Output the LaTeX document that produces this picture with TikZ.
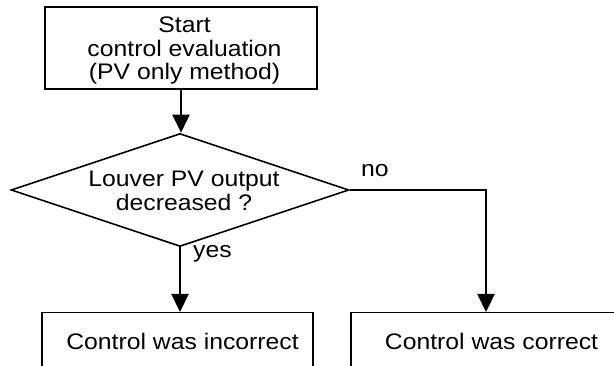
\documentclass[tikz,border=0pt]{standalone}
\usepackage{fontspec}
\setmainfont[FakeStretch=1.1]{Liberation Sans}
\usetikzlibrary{shapes.geometric,arrows.meta}
\tikzset{
  box/.style={draw, line width=1.5pt, inner sep=0pt},
  decision/.style={draw, diamond, line width=1.6pt, inner sep=0pt},
  lbl/.style={inner sep=0pt, font=\fontsize{22.5}{23.5}\selectfont},
  flow/.style={line width=2.2pt, -{Triangle[width=17pt,length=18pt]}},
}
\begin{document}
\begin{tikzpicture}[x=1pt,y=-1pt]
  \clip (0,0) rectangle (614,366);
  % start box
  \node[box, minimum width=272pt, minimum height=82pt] (start) at (181,48) {};
  \node[lbl, align=center] (starttext) at (184.5,50.5)
    {Start\\control evaluation\\(PV only method)};
  % decision
  \node[decision, minimum width=338pt, minimum height=113pt] (dec) at (180,190) {};
  \node[lbl, align=center] (dectext) at (184,191) {Louver PV output\\decreased ?};
  % outcome boxes (run off the lower and right edges)
  \node[box, minimum width=271pt, minimum height=60pt, anchor=north west]
    (inc) at (41,312) {};
  \node[lbl] (inctext) at (182.5,341) {Control was incorrect};
  \node[box, minimum width=300pt, minimum height=60pt, anchor=north west]
    (cor) at (350,312) {};
  \node[lbl] (cortext) at (491.5,341) {Control was correct};
  \coordinate (turn) at (486,190);
  % connectors
  \draw[flow] (start.south) -- (start.south |- dec.north);
  \draw[flow] (dec.south) -- (dec.south |- inc.north);
  \draw[flow] (dec.east) -- (turn) -- (turn |- cor.north);
  % branch labels
  \node[lbl, anchor=base west] (no) at (361,177) {no};
  \node[lbl, anchor=base west] (yes) at (193,258) {yes};
\end{tikzpicture}
\end{document}
